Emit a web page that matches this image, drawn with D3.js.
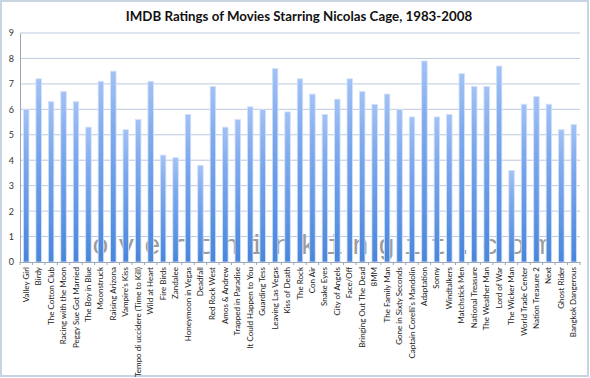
<!DOCTYPE html>
<html>
<head>
<meta charset="utf-8">
<script src="https://cdn.jsdelivr.net/npm/d3@7"></script>
<style>
  body { margin: 0; background: #fff; }
  svg { display: block; }
</style>
</head>
<body>
<div id="chart"></div>
<script>
// Movie titles, in release order.
const movies = [
  "Valley Girl", "Birdy", "The Cotton Club", "Racing with the Moon", "Peggy Sue Got Married",
  "The Boy in Blue", "Moonstruck", "Raising Arizona", "Vampire's Kiss", "Tempo di uccidere (Time to Kill)",
  "Wild at Heart", "Fire Birds", "Zandalee", "Honeymoon in Vegas", "Deadfall",
  "Red Rock West", "Amos & Andrew", "Trapped in Paradise", "It Could Happen to You", "Guarding Tess",
  "Leaving Las Vegas", "Kiss of Death", "The Rock", "Con Air", "Snake Eyes",
  "City of Angels", "Face/Off", "Bringing Out The Dead", "8MM", "The Family Man",
  "Gone in Sixty Seconds", "Captain Corelli's Mandolin", "Adaptation", "Sonny", "Windtalkers",
  "Matchstick Men", "National Treasure", "The Weather Man", "Lord of War", "The Wicker Man",
  "World Trade Center", "Nation Treasure 2", "Next", "Ghost Rider", "Bangkok Dangerous"
];

// IMDB rating for each movie.
const ratings = [
  6.0, 7.2, 6.3, 6.7, 6.3,
  5.3, 7.1, 7.5, 5.2, 5.6,
  7.1, 4.2, 4.1, 5.8, 3.8,
  6.9, 5.3, 5.6, 6.1, 6.0,
  7.6, 5.9, 7.2, 6.6, 5.8,
  6.4, 7.2, 6.7, 6.2, 6.6,
  6.0, 5.7, 7.9, 5.7, 5.8,
  7.4, 6.9, 6.9, 7.7, 3.6,
  6.2, 6.5, 6.2, 5.2, 5.4
];

const yTicks = [0, 1, 2, 3, 4, 5, 6, 7, 8, 9];

const dataset = movies.map((m, i) => ({ name: m, value: ratings[i] }));

// Canvas and plot area.
const w = 590, h = 378;
const plotLeft = 20, plotRight = 580, plotTop = 33, plotBottom = 262;

const xScale = d3.scaleBand()
                .domain(movies)
                .range([plotLeft, plotRight])
                .paddingInner(0.56)
                .paddingOuter(0.28);
const yScale = d3.scaleLinear()
                .domain([0, 9])
                .range([plotBottom, plotTop]);

let svg = d3.select("#chart")
            .append("svg")
            .attr("width", w)
            .attr("height", h);

// Bar gradient, light at the top, darker at the bottom.
const grad = svg.append("defs")
    .append("linearGradient")
    .attr("id", "barFill")
    .attr("x1", 0).attr("y1", 0)
    .attr("x2", 0).attr("y2", 1);
grad.append("stop").attr("offset", "0%").attr("stop-color", "#a2c2f6");
grad.append("stop").attr("offset", "30%").attr("stop-color", "#7faaee");
grad.append("stop").attr("offset", "100%").attr("stop-color", "#4886dc");

// Outer frame.
svg.append("rect")
    .attr("x", 1)
    .attr("y", 1)
    .attr("width", w - 3)
    .attr("height", h - 3)
    .attr("fill", "#fff")
    .attr("stroke", "#c9d4e3")
    .attr("stroke-width", 2);

// Gridlines.
svg.append("g")
    .selectAll("line")
    .data(yTicks.filter(d => d > 0))
    .enter()
    .append("line")
    .attr("x1", plotLeft)
    .attr("x2", plotRight)
    .attr("y1", d => yScale(d))
    .attr("y2", d => yScale(d))
    .attr("stroke", "#bccadf")
    .attr("stroke-width", 1);

// Watermark, sits behind the bars.
svg.append("text")
    .attr("x", 92)
    .attr("y", 254)
    .attr("font-family", "Liberation Mono, monospace")
    .attr("font-size", 28)
    .attr("letter-spacing", 9.2)
    .attr("fill", "#9c9c9c")
    .text("overthinkingit.com");

// Bars.
svg.append("g")
    .selectAll("rect")
    .data(dataset)
    .enter()
    .append("rect")
    .attr("x", d => xScale(d.name))
    .attr("y", d => yScale(d.value))
    .attr("width", xScale.bandwidth())
    .attr("height", d => plotBottom - yScale(d.value))
    .attr("fill", "url(#barFill)")
    .attr("stroke", "#d3e1f7")
    .attr("stroke-width", 0.8);

// X axis.
const xAxis = d3.axisBottom(xScale)
                .tickSize(0)
                .tickPadding(6);
const gx = svg.append("g")
    .attr("transform", `translate(0, ${plotBottom})`)
    .call(xAxis);
gx.select(".domain").attr("stroke", "#9aa7b8");
gx.selectAll("text")
    .attr("transform", "rotate(-90)")
    .attr("text-anchor", "end")
    .attr("dx", "-5px")
    .attr("dy", "0.32em")
    .attr("x", 0)
    .attr("y", 0)
    .attr("font-family", "Lato, sans-serif")
    .attr("font-size", 8)
    .attr("fill", "#222");
// Small ticks at category boundaries.
svg.append("g")
    .selectAll("line")
    .data(d3.range(movies.length + 1))
    .enter()
    .append("line")
    .attr("x1", i => plotLeft + i * (plotRight - plotLeft) / movies.length)
    .attr("x2", i => plotLeft + i * (plotRight - plotLeft) / movies.length)
    .attr("y1", plotBottom)
    .attr("y2", plotBottom + 3)
    .attr("stroke", "#9aa7b8");

// Y axis.
const yAxis = d3.axisLeft(yScale)
                .tickValues(yTicks)
                .tickSize(0)
                .tickPadding(6)
                .tickFormat(d3.format("d"));
const gy = svg.append("g")
    .attr("transform", `translate(${plotLeft}, 0)`)
    .call(yAxis);
gy.select(".domain").attr("stroke", "#9aa7b8");
gy.selectAll("text")
    .attr("font-family", "Lato, sans-serif")
    .attr("font-size", 9)
    .attr("fill", "#333");

// Title.
svg.append("text")
    .attr("x", 299)
    .attr("y", 21)
    .attr("text-anchor", "middle")
    .attr("font-family", "Lato, sans-serif")
    .attr("font-weight", "bold")
    .attr("font-size", 13.3)
    .attr("fill", "#111")
    .text("IMDB Ratings of Movies Starring Nicolas Cage, 1983-2008");
</script>
</body>
</html>
